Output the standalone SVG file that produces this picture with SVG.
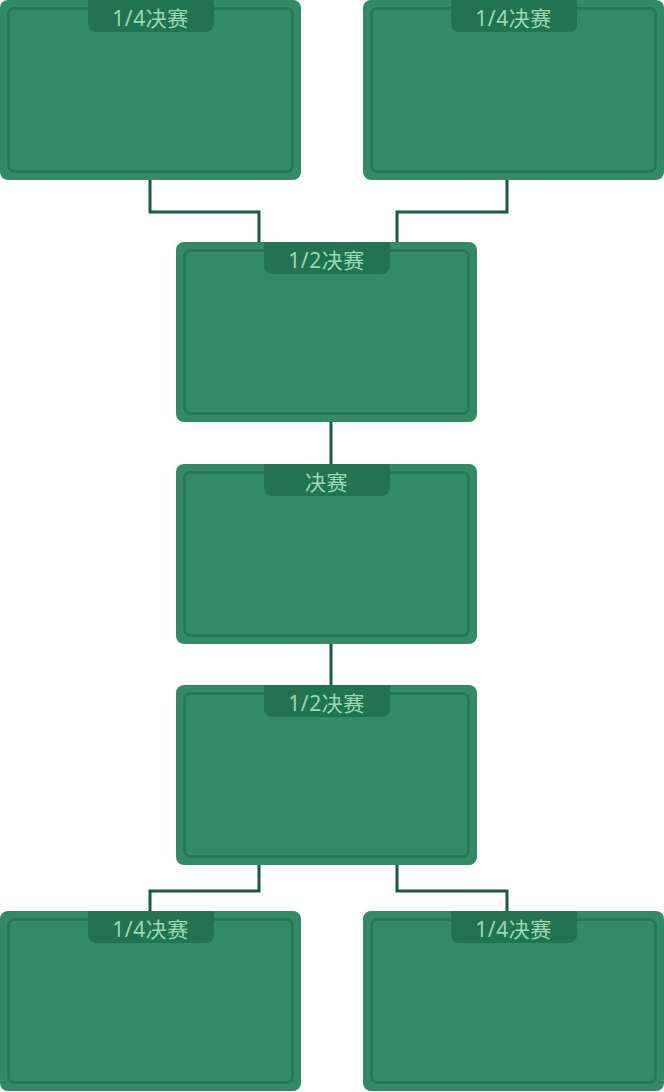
<svg xmlns="http://www.w3.org/2000/svg" width="664" height="1092" viewBox="0 0 664 1092">
<defs>
<style>
.box{fill:#338b66}
.inner{fill:none;stroke:#267856;stroke-width:3}
.tab{fill:#21744f}
.lbl{fill:#9ad8b2;font-family:"Noto Sans","Noto Sans CJK SC",sans-serif;font-size:21px;text-anchor:middle;letter-spacing:0.5px}
.conn{fill:none;stroke:#1b5b40;stroke-width:3}
</style>
<g id="node">
<rect class="box" x="0" y="0" width="301" height="180" rx="8"/>
<rect class="inner" x="8.5" y="8.5" width="284" height="163" rx="6"/>
<path class="tab" d="M88 0H214V24A8 8 0 0 1 206 32H96A8 8 0 0 1 88 24Z"/>
</g>
</defs>
<g id="connectors">
<path class="conn" d="M150 180V212H259V242"/>
<path class="conn" d="M507 180V212H397V242"/>
<path class="conn" d="M331 422V464"/>
<path class="conn" d="M331 644V685"/>
<path class="conn" d="M259 865V891H150V911"/>
<path class="conn" d="M397 865V891H507V911"/>
</g>
<g id="qf1" transform="translate(0,0)"><use href="#node"/><text class="lbl" x="150.5" y="26">1/4决赛</text></g>
<g id="qf2" transform="translate(363,0)"><use href="#node"/><text class="lbl" x="150.5" y="26">1/4决赛</text></g>
<g id="sf1" transform="translate(176,242)"><use href="#node"/><text class="lbl" x="150.5" y="26">1/2决赛</text></g>
<g id="final" transform="translate(176,464)"><use href="#node"/><text class="lbl" x="150.5" y="26">决赛</text></g>
<g id="sf2" transform="translate(176,685)"><use href="#node"/><text class="lbl" x="150.5" y="26">1/2决赛</text></g>
<g id="qf3" transform="translate(0,911)"><use href="#node"/><text class="lbl" x="150.5" y="26">1/4决赛</text></g>
<g id="qf4" transform="translate(363,911)"><use href="#node"/><text class="lbl" x="150.5" y="26">1/4决赛</text></g>
</svg>
